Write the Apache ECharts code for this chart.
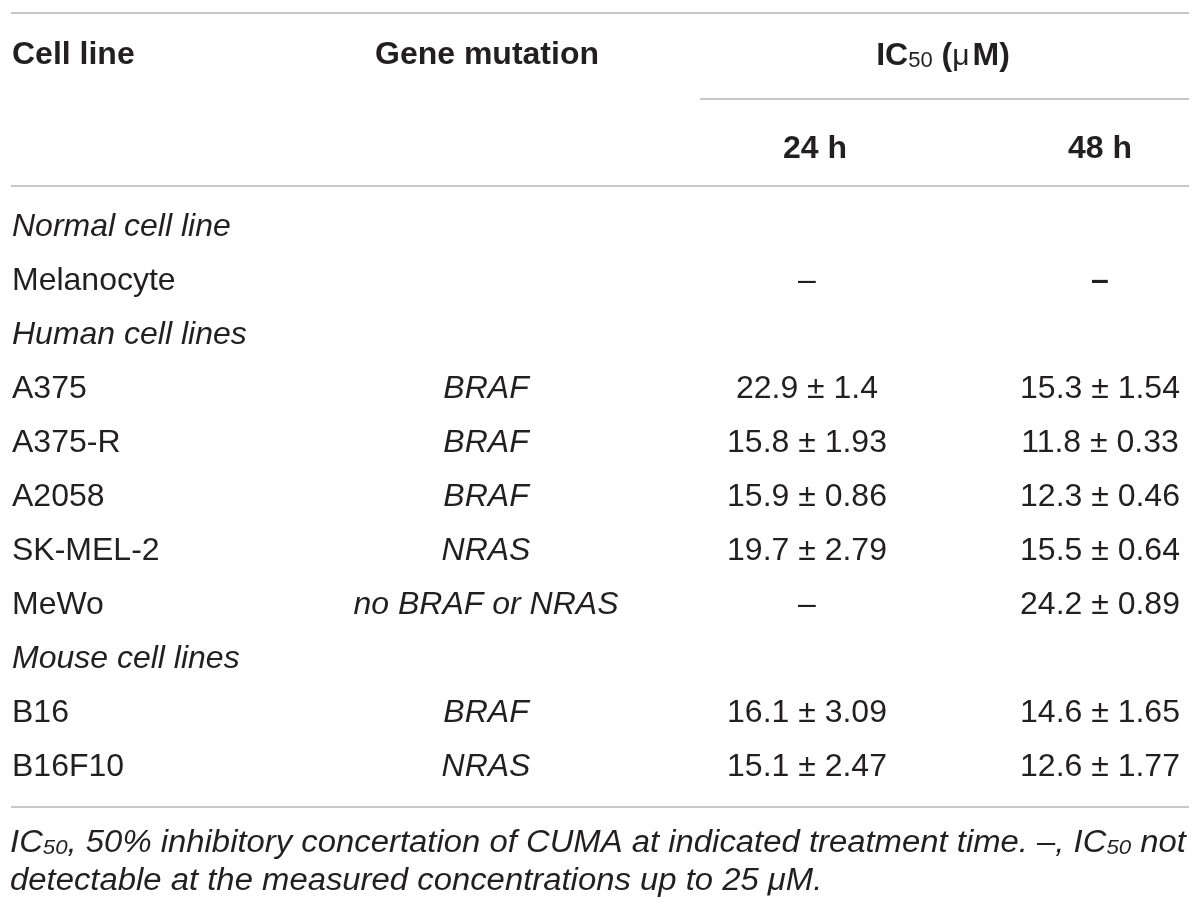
<!DOCTYPE html>
<html>
<head>
<meta http-equiv="content-type" content="text/html; charset=utf-8"/>
<title>IC50 of CUMA</title>
<style type="text/css">body,html{width:100%;height:100%;margin:0;background:#fff}#main{width:1200px;height:913px}</style>
<script src="https://cdn.jsdelivr.net/npm/echarts@6/dist/echarts.min.js"></script>
</head>
<body>
<div id="main"></div>
<script>
	// table content
	var rows = ['Normal cell line', 'Melanocyte', 'Human cell lines', 'A375', 'A375-R', 'A2058', 'SK-MEL-2', 'MeWo', 'Mouse cell lines', 'B16', 'B16F10'];
	var sectionRows = ['Normal cell line', 'Human cell lines', 'Mouse cell lines'];
	var mutations = ['', '', '', 'BRAF', 'BRAF', 'BRAF', 'NRAS', 'no BRAF or NRAS', '', 'BRAF', 'NRAS'];
	var ic24 = ['', '–', '', '22.9 ± 1.4', '15.8 ± 1.93', '15.9 ± 0.86', '19.7 ± 2.79', '–', '', '16.1 ± 3.09', '15.1 ± 2.47'];
	var ic48 = ['', '–', '', '15.3 ± 1.54', '11.8 ± 0.33', '12.3 ± 0.46', '15.5 ± 0.64', '24.2 ± 0.89', '', '14.6 ± 1.65', '12.6 ± 1.77'];
	var headers = ['Cell line', 'Gene mutation', '24 h', '48 h'];
	var footLine1 = [['n', 'IC'], ['s', '50'], ['n', ', 50% inhibitory concertation of CUMA at indicated treatment time. –, IC'], ['s', '50'], ['n', ' not']];
	var footLine2 = [['n', 'detectable at the measured concentrations up to 25 μM.']];

	// layout
	var FONT = '"Liberation Sans", Arial, sans-serif';
	var INK = '#231f20';
	var RULE = '#c8c8c8';
	var colX = [486, 807, 1100];   // column centres (px)
	var rowTop = 200, rowH = 54;

	var chart = echarts.init(document.getElementById('main'));

	function cellSeries(values, x, italic, boldDash) {
		var data = [];
		for (var i = 0; i < rows.length; i++) {
			if (!values[i]) continue;
			var item = { value: [x, rows[i], values[i]] };
			if (boldDash && values[i] === '–') item.label = { fontWeight: 'bold' };
			data.push(item);
		}
		return {
			type: 'scatter',
			symbolSize: 0,
			silent: true,
			itemStyle: { opacity: 1 },
			data: data,
			label: {
				show: true,
				position: 'inside',
				formatter: function (p) { return p.value[2]; },
				fontFamily: FONT,
				fontSize: 32,
				fontStyle: italic ? 'italic' : 'normal',
				color: INK,
				opacity: 1
			}
		};
	}

	// footnote: condense to the table width like the original
	var ctx = document.createElement('canvas').getContext('2d');
	function measure(parts, size, subSize) {
		var w = 0;
		parts.forEach(function (p) {
			ctx.font = 'italic ' + (p[0] === 's' ? subSize : size) + 'px ' + FONT;
			w += ctx.measureText(p[1]).width;
		});
		return w;
	}
	function richText(parts) {
		return parts.map(function (p) { return '{' + p[0] + '|' + p[1] + '}'; }).join('');
	}
	var footScale = 1176 / measure(footLine1, 31, 21);
	var footRich = {
		n: { fontFamily: FONT, fontStyle: 'italic', fontSize: 31, lineHeight: 42, fill: INK, verticalAlign: 'bottom' },
		s: { fontFamily: FONT, fontStyle: 'italic', fontSize: 21, lineHeight: 27, fill: INK, verticalAlign: 'bottom' }
	};

	function hline(x1, x2, y) {
		return { type: 'line', silent: true, shape: { x1: x1, y1: y, x2: x2, y2: y }, style: { stroke: RULE, lineWidth: 2 } };
	}
	function head(text, x, y, align) {
		return { type: 'text', x: x, y: y, silent: true,
			style: { text: text, fontFamily: FONT, fontWeight: 'bold', fontSize: 32, fill: INK, align: align, verticalAlign: 'middle' } };
	}

	var option = {
		animation: false,
		grid: { left: 0, right: 0, top: rowTop, height: rowH * rows.length, outerBoundsMode: 'none' },
		xAxis: { type: 'value', min: 0, max: 1200, show: false },
		yAxis: {
			type: 'category',
			data: rows,
			inverse: true,
			axisLine: { show: false },
			axisTick: { show: false },
			splitLine: { show: false },
			axisLabel: {
				inside: true,
				margin: 12,
				interval: 0,
				fontFamily: FONT,
				fontSize: 32,
				color: INK,
				formatter: function (v) { return sectionRows.indexOf(v) >= 0 ? '{sec|' + v + '}' : v; },
				rich: { sec: { fontFamily: FONT, fontSize: 32, fontStyle: 'italic', color: INK } }
			}
		},
		series: [
			cellSeries(mutations, colX[0], true, false),
			cellSeries(ic24, colX[1], false, false),
			cellSeries(ic48, colX[2], false, true)
		],
		graphic: [
			hline(11, 1189, 13),
			hline(700, 1189, 99),
			hline(11, 1189, 186),
			hline(11, 1189, 807),
			head(headers[0], 12, 55, 'left'),
			head(headers[1], 487, 55, 'center'),
			head(headers[2], 815, 149, 'center'),
			head(headers[3], 1100, 149, 'center'),
			{
				type: 'text', x: 943, y: 50, silent: true,
				style: {
					text: '{b|IC}{s|50}{b| (}{m|μ}{b|M)}',
					align: 'center', verticalAlign: 'middle',
					rich: {
						b: { fontFamily: FONT, fontWeight: 'bold', fontSize: 32, lineHeight: 44, fill: INK, verticalAlign: 'bottom' },
						s: { fontFamily: FONT, fontSize: 22, lineHeight: 29, fill: INK, verticalAlign: 'bottom' },
						m: { fontFamily: FONT, fontSize: 30, lineHeight: 44, fill: INK, verticalAlign: 'bottom', padding: [0, 3, 0, 0] }
					}
				}
			},
			{
				type: 'text', x: 10, y: 838, scaleX: footScale, silent: true,
				style: { text: richText(footLine1), align: 'left', verticalAlign: 'middle', rich: footRich }
			},
			{
				type: 'text', x: 10, y: 876, scaleX: footScale, silent: true,
				style: { text: richText(footLine2), align: 'left', verticalAlign: 'middle', rich: footRich }
			}
		]
	};
	chart.setOption(option);
</script>
</body>
</html>
